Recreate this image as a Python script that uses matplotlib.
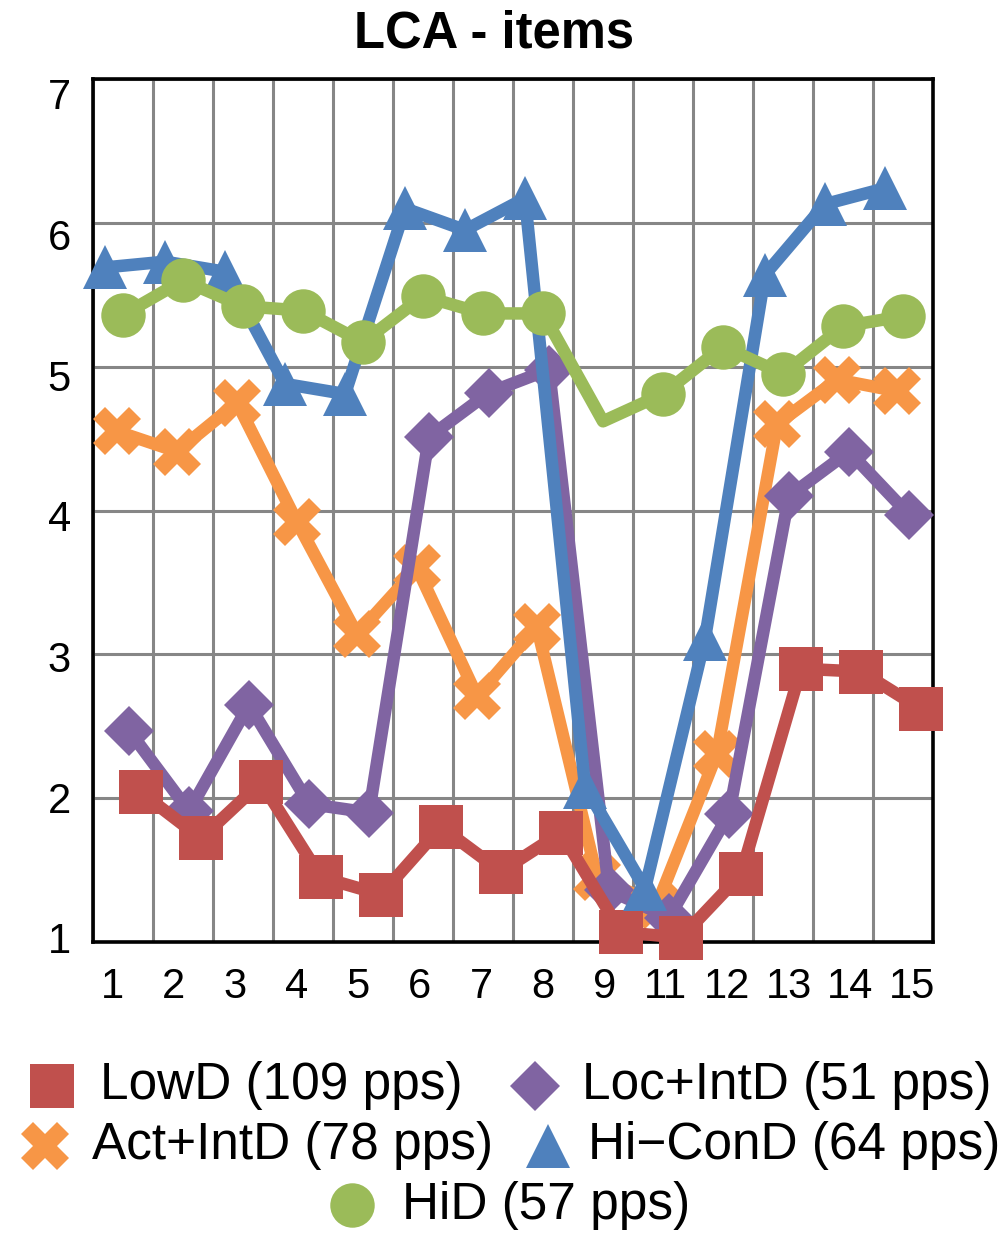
import numpy as np
import matplotlib.pyplot as plt
from matplotlib.lines import Line2D

plt.rcParams['font.family'] = ['Liberation Sans', 'DejaVu Sans']

# scores per item (item 10 was dropped)
categories = ["1", "2", "3", "4", "5", "6", "7", "8", "9", "11", "12", "13", "14", "15"]

low_d = [2.04, 1.72, 2.11, 1.45, 1.33, 1.80, 1.49, 1.76, 1.07, 1.03, 1.47, 2.90, 2.88, 2.62]
loc_int_d = [2.47, 1.91, 2.65, 1.96, 1.90, 4.51, 4.82, 4.98, 1.36, 1.17, 1.89, 4.10, 4.41, 3.97]
act_int_d = [4.55, 4.41, 4.75, 3.92, 3.14, 3.60, 2.71, 3.19, 1.45, 1.26, 2.31, 4.60, 4.91, 4.83]
hi_con_d = [5.69, 5.73, 5.66, 4.88, 4.81, 6.10, 5.95, 6.17, 2.08, 1.37, 3.11, 5.64, 6.13, 6.24]
hi_d = [5.36, 5.60, 5.42, 5.39, 5.17, 5.49, 5.37, 5.37, 4.62, 4.81, 5.14, 4.95, 5.28, 5.35]

names = ["LowD (109 pps)", "Loc+IntD (51 pps)", "Act+IntD (78 pps)",
         "Hi\u2212ConD (64 pps)", "HiD (57 pps)"]

W, H = 1006, 1234
fig = plt.figure(figsize=(W / 100, H / 100), dpi=100)
ax = fig.add_axes([93 / W, 1 - 942 / H, 840 / W, 863 / H])

n = len(categories)
idx = np.arange(n)

# name, values, color, marker, size, offset inside the category, zorder
styles = [
    (names[2], act_int_d, "#F79646", "X", 35, 0.4, 3),
    (names[1], loc_int_d, "#8064A2", "D", 25, 0.6, 4),
    (names[0], low_d, "#C0504D", "s", 32, 0.8, 5),
    (names[3], hi_con_d, "#4F81BD", "^", 32, 0.2, 6),
    (names[4], hi_d, "#9BBB59", "o", 32, 0.5, 7),
]

for name, vals, col, mk, ms, off, z in styles:
    every = list(range(n))
    if name.startswith("HiD"):
        every.remove(8)  # no marker on item 9
    ax.plot(idx + off, vals, color=col, lw=9, marker=mk, ms=ms, mew=0,
            markevery=every, solid_joinstyle="round", zorder=z, clip_on=False)

ax.set_xlim(0, n)
ax.set_ylim(1, 7)

# gridlines on the category borders and whole values
ax.set_xticks(np.arange(0, n + 1), minor=True)
ax.set_yticks(np.arange(1, 8), minor=True)
ax.grid(which="minor", color="#868686", lw=2.2)
ax.tick_params(which="minor", length=0)

ax.set_xticks(0.317 + idx * 1.0256)
ax.set_xticklabels(categories)
ax.set_yticks(1.028 + np.arange(7) * 0.978)
ax.set_yticklabels([str(v) for v in range(1, 8)])
ax.tick_params(which="major", length=0, labelsize=30)
ax.tick_params(axis="x", pad=18)
ax.tick_params(axis="y", pad=16)

for sp in ax.spines.values():
    sp.set_color("black")
    sp.set_linewidth(2.6)
    sp.set_zorder(2)
ax.set_axisbelow(True)

fig.text(494 / W, 1 - 34 / H, "LCA - items", ha="center", va="center",
         fontsize=36.5, fontweight="bold")

# legend rows laid out by hand
legend_pos = {
    names[0]: (52, 1086, 100),
    names[1]: (535, 1086, 582),
    names[2]: (45, 1146, 92),
    names[3]: (548, 1146, 588),
    names[4]: (352, 1205, 402),
}
for name, vals, col, mk, ms, off, z in styles:
    mx, my, tx = legend_pos[name]
    fig.add_artist(Line2D([mx / W], [1 - my / H], transform=fig.transFigure,
                          marker=mk, ms=ms, mew=0, color=col, linestyle="none"))
    fig.text(tx / W, 1 - my / H, name, ha="left", va="center", fontsize=37)

fig.savefig("out.png", dpi=100)
